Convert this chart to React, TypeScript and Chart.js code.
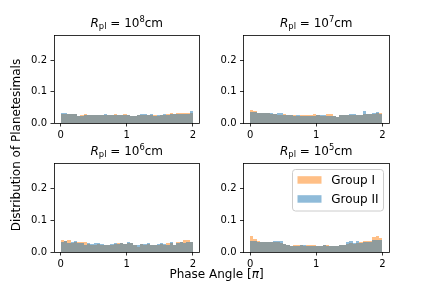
import React, { useEffect, useRef } from 'react';
import { Chart, registerables } from 'chart.js';

Chart.register(...registerables);

// ---------- data ----------
const BIN_COUNT = 40;
const X_LO = 0;
const X_HI = 2;
const BIN_CENTERS = Array.from({ length: BIN_COUNT }, (_, i) => X_LO + ((i + 0.5) * (X_HI - X_LO)) / BIN_COUNT);

const X_TICKS = [0, 1, 2];
const Y_TICKS = [0, 0.1, 0.2];

const EXPONENTS = ['8', '7', '6', '5'];
const SERIES_LABELS = ['Group I', 'Group II'];

const G1_R1E8 = [0.029, 0.030, 0.028, 0.028, 0.028, 0.023, 0.024, 0.029, 0.026, 0.027,
  0.027, 0.027, 0.027, 0.025, 0.027, 0.027, 0.028, 0.026, 0.026, 0.028,
  0.024, 0.021, 0.022, 0.024, 0.024, 0.024, 0.025, 0.025, 0.024, 0.023,
  0.026, 0.027, 0.028, 0.032, 0.029, 0.032, 0.033, 0.033, 0.033, 0.031];
const G2_R1E8 = [0.031, 0.033, 0.028, 0.029, 0.029, 0.022, 0.023, 0.026, 0.027, 0.024,
  0.025, 0.026, 0.026, 0.028, 0.024, 0.024, 0.025, 0.025, 0.027, 0.027,
  0.024, 0.023, 0.021, 0.025, 0.029, 0.029, 0.024, 0.029, 0.022, 0.025,
  0.026, 0.030, 0.027, 0.029, 0.030, 0.029, 0.030, 0.030, 0.030, 0.038];

const G1_R1E7 = [0.040, 0.037, 0.033, 0.032, 0.033, 0.033, 0.028, 0.029, 0.026, 0.026,
  0.028, 0.026, 0.027, 0.025, 0.023, 0.025, 0.025, 0.025, 0.026, 0.028,
  0.025, 0.023, 0.023, 0.028, 0.028, 0.023, 0.019, 0.025, 0.025, 0.027,
  0.027, 0.026, 0.026, 0.027, 0.030, 0.029, 0.030, 0.030, 0.033, 0.033];
const G2_R1E7 = [0.036, 0.034, 0.031, 0.031, 0.033, 0.033, 0.033, 0.029, 0.031, 0.033,
  0.026, 0.026, 0.026, 0.023, 0.025, 0.023, 0.023, 0.023, 0.023, 0.022,
  0.026, 0.026, 0.024, 0.023, 0.023, 0.023, 0.019, 0.027, 0.027, 0.027,
  0.028, 0.029, 0.027, 0.027, 0.039, 0.029, 0.030, 0.033, 0.035, 0.028];

const G1_R1E6 = [0.039, 0.034, 0.039, 0.027, 0.030, 0.030, 0.030, 0.030, 0.024, 0.023,
  0.023, 0.024, 0.023, 0.023, 0.023, 0.023, 0.026, 0.027, 0.027, 0.025,
  0.027, 0.027, 0.023, 0.017, 0.025, 0.023, 0.025, 0.023, 0.023, 0.023,
  0.025, 0.023, 0.027, 0.027, 0.023, 0.033, 0.030, 0.039, 0.039, 0.032];
const G2_R1E6 = [0.032, 0.034, 0.027, 0.030, 0.036, 0.027, 0.027, 0.023, 0.027, 0.026,
  0.027, 0.027, 0.026, 0.023, 0.023, 0.024, 0.029, 0.026, 0.029, 0.026,
  0.033, 0.029, 0.023, 0.021, 0.026, 0.025, 0.027, 0.023, 0.023, 0.026,
  0.027, 0.026, 0.023, 0.030, 0.022, 0.027, 0.030, 0.029, 0.032, 0.033];

const G1_R1E5 = [0.051, 0.041, 0.036, 0.033, 0.031, 0.031, 0.030, 0.032, 0.030, 0.028,
  0.0245, 0.022, 0.020, 0.023, 0.021, 0.021, 0.020, 0.022, 0.023, 0.021,
  0.020, 0.019, 0.023, 0.021, 0.019, 0.018, 0.018, 0.021, 0.023, 0.026,
  0.028, 0.026, 0.028, 0.031, 0.034, 0.035, 0.035, 0.047, 0.049, 0.044];
const G2_R1E5 = [0.035, 0.035, 0.033, 0.033, 0.031, 0.033, 0.032, 0.035, 0.035, 0.035,
  0.0245, 0.022, 0.019, 0.019, 0.020, 0.023, 0.021, 0.020, 0.020, 0.020,
  0.019, 0.019, 0.021, 0.019, 0.019, 0.019, 0.019, 0.022, 0.023, 0.031,
  0.036, 0.028, 0.035, 0.028, 0.030, 0.033, 0.033, 0.038, 0.038, 0.038];

const GROUP1 = [G1_R1E8, G1_R1E7, G1_R1E6, G1_R1E5];
const GROUP2 = [G2_R1E8, G2_R1E7, G2_R1E6, G2_R1E5];

// ---------- layout / style ----------
const W = 432;
const H = 288;
const YW = 30;
const XH = 22;
const FONT = 'DejaVu Sans';
const ORANGE = 'rgba(255,127,14,0.5)';
const BLUE = 'rgba(31,119,180,0.5)';

const AREAS = [
  { left: 54, top: 35, right: 199.5, bottom: 123 },
  { left: 243.5, top: 35, right: 389, bottom: 123 },
  { left: 54, top: 163, right: 199.5, bottom: 252 },
  { left: 243.5, top: 163, right: 389, bottom: 252 },
];

type Seg = { t: string; font: string; dy?: number };

function drawRich(ctx: CanvasRenderingContext2D, segs: Seg[], cx: number, y: number) {
  let total = 0;
  for (const s of segs) {
    ctx.font = s.font;
    total += ctx.measureText(s.t).width;
  }
  let x = cx - total / 2;
  ctx.textAlign = 'left';
  ctx.textBaseline = 'alphabetic';
  for (const s of segs) {
    ctx.font = s.font;
    ctx.fillText(s.t, x, y + (s.dy || 0));
    x += ctx.measureText(s.t).width;
  }
}

// snap bar rectangles to the pixel grid (like matplotlib's snapping) to avoid seams
const snapPlugin = {
  id: 'snapBars',
  afterDatasetUpdate(chart: any, args: any) {
    const els = args.meta.data || [];
    for (const el of els) {
      const l = Math.round(el.x - el.width / 2);
      const r = Math.round(el.x + el.width / 2);
      el.x = (l + r) / 2;
      el.width = r - l;
      el.y = Math.round(el.y);
      el.base = Math.round(el.base);
    }
  },
};

function makePlugin(idx: number) {
  return {
    id: 'decor' + idx,
    afterDraw(chart: any) {
      const ctx: CanvasRenderingContext2D = chart.ctx;
      const a = chart.chartArea;
      ctx.save();
      // frame
      ctx.strokeStyle = '#000';
      ctx.lineWidth = 0.8;
      const l = Math.floor(a.left) + 0.5;
      const t = Math.floor(a.top) + 0.5;
      const r = Math.floor(a.right) + 0.5;
      const b = Math.floor(a.bottom) + 0.5;
      ctx.strokeRect(l, t, r - l, b - t);
      // title
      ctx.fillStyle = '#000';
      const cx = (a.left + a.right) / 2;
      drawRich(ctx, [
        { t: 'R', font: `italic 12px ${FONT}` },
        { t: 'pl', font: `8.4px ${FONT}`, dy: 2 },
        { t: ' = 10', font: `12px ${FONT}` },
        { t: EXPONENTS[idx], font: `8.4px ${FONT}`, dy: -5 },
        { t: 'cm', font: `12px ${FONT}` },
      ], cx, a.top - 8.3);

      if (idx === 0) {
        // shared axis labels
        drawRich(ctx, [
          { t: 'Phase Angle [', font: `12px ${FONT}` },
          { t: 'π', font: `italic 12px ${FONT}` },
          { t: ']', font: `12px ${FONT}` },
        ], 216.5, 277.5);
        ctx.save();
        ctx.translate(20, 145);
        ctx.rotate(-Math.PI / 2);
        ctx.font = `12px ${FONT}`;
        ctx.textAlign = 'center';
        ctx.textBaseline = 'alphabetic';
        ctx.fillText('Distribution of Planetesimals', 0, 0);
        ctx.restore();
      }

      if (idx === 3) {
        // legend
        const bx = a.right - 5.5 - 91;
        const by = a.top + 6.5;
        const bw = 91;
        const bh = 41.5;
        const rad = 3;
        ctx.beginPath();
        ctx.moveTo(bx + rad, by);
        ctx.lineTo(bx + bw - rad, by);
        ctx.arcTo(bx + bw, by, bx + bw, by + rad, rad);
        ctx.lineTo(bx + bw, by + bh - rad);
        ctx.arcTo(bx + bw, by + bh, bx + bw - rad, by + bh, rad);
        ctx.lineTo(bx + rad, by + bh);
        ctx.arcTo(bx, by + bh, bx, by + bh - rad, rad);
        ctx.lineTo(bx, by + rad);
        ctx.arcTo(bx, by, bx + rad, by, rad);
        ctx.closePath();
        ctx.fillStyle = 'rgba(255,255,255,0.8)';
        ctx.fill();
        ctx.strokeStyle = '#cccccc';
        ctx.lineWidth = 1;
        ctx.stroke();
        const colors = [ORANGE, BLUE];
        for (let i = 0; i < SERIES_LABELS.length; i++) {
          const py = by + 6.7 + i * 19;
          ctx.fillStyle = colors[i];
          ctx.fillRect(bx + 5, py, 24, 7.5);
          ctx.fillStyle = '#000';
          ctx.font = `12px ${FONT}`;
          ctx.textAlign = 'left';
          ctx.textBaseline = 'alphabetic';
          ctx.fillText(SERIES_LABELS[i], bx + 38.7, py + 8.2);
        }
      }
      ctx.restore();
    },
  };
}

function Panel({ idx }: { idx: number }) {
  const ref = useRef<HTMLCanvasElement>(null);
  useEffect(() => {
    const area = AREAS[idx];
    const g1 = GROUP1[idx];
    const g2 = GROUP2[idx];
    const tickFont = { family: FONT, size: 10 };
    const grid = {
      display: true,
      drawOnChartArea: false,
      drawTicks: true,
      tickLength: 3.5,
      color: '#000',
      lineWidth: 0.8,
      offset: false,
    };
    const chart = new Chart(ref.current as HTMLCanvasElement, {
      type: 'bar',
      data: {
        datasets: [
          {
            label: SERIES_LABELS[0],
            data: BIN_CENTERS.map((x, i) => ({ x, y: g1[i] })),
            backgroundColor: ORANGE,
            borderWidth: 0,
            barPercentage: 1,
            categoryPercentage: 1,
            grouped: false,
            inflateAmount: 0,
            order: 1,
          } as any,
          {
            label: SERIES_LABELS[1],
            data: BIN_CENTERS.map((x, i) => ({ x, y: g2[i] })),
            backgroundColor: BLUE,
            borderWidth: 0,
            barPercentage: 1,
            categoryPercentage: 1,
            grouped: false,
            inflateAmount: 0,
            order: 0,
          } as any,
        ],
      },
      options: {
        responsive: false,
        animation: false,
        devicePixelRatio: 1,
        events: [],
        layout: {
          padding: {
            left: area.left - YW,
            top: area.top,
            right: W - area.right,
            bottom: H - area.bottom - XH,
          },
        },
        plugins: {
          legend: { display: false },
          tooltip: { enabled: false },
          title: { display: false },
        },
        scales: {
          x: {
            type: 'linear',
            min: -0.1,
            max: 2.1,
            offset: false,
            afterBuildTicks: (s: any) => {
              s.ticks = X_TICKS.map((v) => ({ value: v }));
            },
            afterFit: (s: any) => {
              s.height = XH;
            },
            grid,
            border: { display: false },
            ticks: {
              color: '#000',
              font: tickFont,
              padding: 2.5,
              maxRotation: 0,
              autoSkip: false,
              callback: (v: any) => String(v),
            },
          },
          y: {
            type: 'linear',
            min: 0,
            max: 0.28,
            afterBuildTicks: (s: any) => {
              s.ticks = Y_TICKS.map((v) => ({ value: v }));
            },
            afterFit: (s: any) => {
              s.width = YW;
            },
            grid,
            border: { display: false },
            ticks: {
              color: '#000',
              font: tickFont,
              padding: 3.5,
              autoSkip: false,
              callback: (v: any) => Number(v).toFixed(1),
            },
          },
        },
      } as any,
      plugins: [snapPlugin, makePlugin(idx)],
    });
    return () => chart.destroy();
  }, [idx]);
  return (
    <canvas
      ref={ref}
      width={W}
      height={H}
      style={{ position: 'absolute', left: 0, top: 0, width: W, height: H }}
    />
  );
}

export default function App() {
  return (
    <div style={{ position: 'absolute', left: 0, top: 0, width: W, height: H, background: '#fff' }}>
      {[0, 1, 2, 3].map((i) => (
        <Panel key={i} idx={i} />
      ))}
    </div>
  );
}
